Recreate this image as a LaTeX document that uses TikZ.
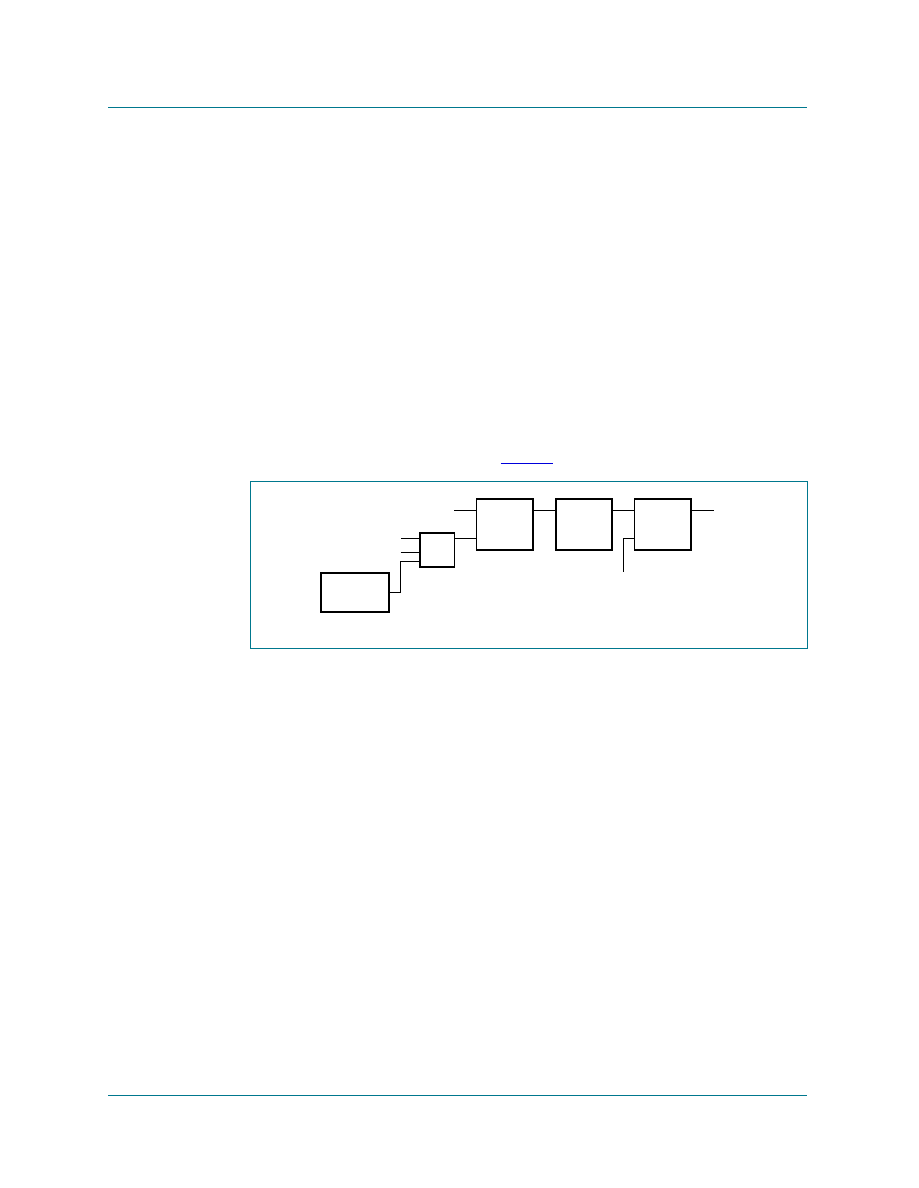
\documentclass[tikz,border=0pt]{standalone}
\usepackage{tikz}
\definecolor{pageteal}{RGB}{0,120,142}
\definecolor{linkblue}{RGB}{0,0,220}
\tikzstyle{box_wide} = [draw, line width=1.2pt, inner sep=0pt, outer sep=0pt, minimum width=45.7pt, minimum height=26pt]
\tikzstyle{box_small} = [draw, line width=1.2pt, inner sep=0pt, outer sep=0pt, minimum width=23pt, minimum height=22.7pt]
\tikzstyle{box_block} = [draw, line width=1.2pt, inner sep=0pt, outer sep=0pt, minimum width=37.5pt, minimum height=34pt]
\tikzstyle{wire} = [line width=0.5pt]

\begin{document}
\begin{tikzpicture}[x=0.6667pt, y=-0.6667pt]
\useasboundingbox (0,0) rectangle (918,1188);
% page rules and frame
\draw[pageteal, line width=0.6pt] (108,107.3) -- (807,107.3);
\draw[pageteal, line width=0.6pt] (108,1095.3) -- (807,1095.3);
\draw[linkblue, line width=0.6pt] (500.5,463) -- (553,463);
\draw[pageteal, line width=0.6pt] (250,481.7) rectangle (807,648);
% blocks
\node (src) at (355,592.2) [box_wide] {};
\node (mux) at (437.2,549.8) [box_small] {};
\node (blkA) at (504.7,524.6) [box_block] {};
\node (blkB) at (584,524.6) [box_block] {};
\node (blkC) at (662.7,524.6) [box_block] {};
% free ends
\coordinate (inTop) at (454,510.3);
\coordinate (out) at (713.5,510.3);
\coordinate (inA) at (401,538.3);
\coordinate (inB) at (400.5,552);
\coordinate (bend) at (400.5,561);
\coordinate (tap) at (623.7,571.7);
% wires
\draw[wire] (inTop) -- (inTop -| blkA.west);
\draw[wire] (blkA.east |- inTop) -- (blkB.west |- inTop);
\draw[wire] (blkB.east |- inTop) -- (blkC.west |- inTop);
\draw[wire] (blkC.east |- out) -- (out);
\draw[wire] (inA) -- (inA -| mux.west);
\draw[wire] (inB) -- (inB -| mux.west);
\draw[wire] (src.east) -| (bend) -- (bend -| mux.west);
\draw[wire] (mux.east |- inA) -- (blkA.west |- inA);
\draw[wire] (tap) |- (blkC.west |- inA);
\end{tikzpicture}
\end{document}
